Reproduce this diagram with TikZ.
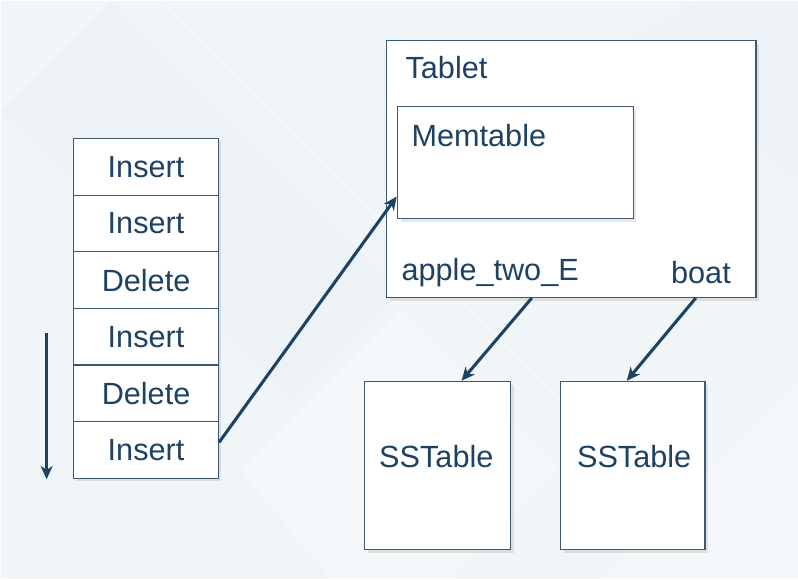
\documentclass[tikz,border=0pt]{standalone}
\usepackage{fontspec}
\setmainfont{Liberation Sans}
\usetikzlibrary{arrows.meta,shadows}
\definecolor{ink_col}{RGB}{30,66,100}
\definecolor{edge_col}{RGB}{62,88,114}
\definecolor{bg_col}{RGB}{240,245,248}
\definecolor{tile_col}{RGB}{228,236,242}

\begin{document}
\begin{tikzpicture}[x=0.75pt,y=-0.75pt,
    op_box/.style={draw=edge_col,fill=white,line width=0.9pt,minimum width=108.75pt,minimum height=42.5pt,text=ink_col,font=\fontsize{23}{26}\selectfont,drop shadow={shadow xshift=2pt,shadow yshift=-2pt,opacity=0.18}},
    table_box/.style={draw=edge_col,fill=white,line width=0.9pt,drop shadow={shadow xshift=2.5pt,shadow yshift=-2.5pt,opacity=0.18}},
    box_label/.style={text=ink_col,font=\fontsize{23}{26}\selectfont,inner sep=0pt},
    flow_arrow/.style={draw=ink_col,line width=2.3pt,-{Stealth[length=10pt,width=9pt,inset=3pt]}}]
  % background
  \fill[bg_col] (0,0) rectangle (798,579);
  \fill[tile_col,opacity=0.25] (0,110) -- (110,0) -- (400,290) -- (290,400) -- cycle;
  \fill[white,opacity=0.3] (240,470) -- (400,310) -- (560,470) -- (450,579) -- (330,579) -- cycle;
  \fill[white,opacity=0.35] (600,579) -- (798,380) -- (798,579) -- cycle;
  \fill[tile_col,opacity=0.2] (620,40) -- (700,0) -- (798,0) -- (798,180) -- cycle;
  \draw[white,line width=1pt,opacity=0.5] (0,110) -- (110,0);
  \draw[white,line width=1pt,opacity=0.5] (160,0) -- (560,400);
  \useasboundingbox (0,0) rectangle (798,579);
  % log of operations
\node[op_box] (op1) at (145.5,166.3) {Insert};
\node[op_box] (op2) at (145.5,223.0) {Insert};
\node[op_box] (op3) at (145.5,279.7) {Delete};
\node[op_box] (op4) at (145.5,336.3) {Insert};
\node[op_box] (op5) at (145.5,393.0) {Delete};
\node[op_box] (op6) at (145.5,449.7) {Insert};
  \coordinate (time_start) at (46,333);
  \coordinate (time_end) at (46,479);
  \draw[flow_arrow,line width=2.6pt] (time_start) -- (time_end);
  % tablet
\node[table_box,minimum width=277.5pt,minimum height=192.75pt] (tablet) at (571,168.5) {};
\node[table_box,minimum width=177pt,minimum height=84pt] (memtable) at (515,162) {};
\node[box_label,anchor=west] (tablet_lbl) at (405,67) {Tablet};
\node[box_label,anchor=west] (memtable_lbl) at (411,135) {Memtable};
\node[box_label,anchor=west] (key_a) at (401,272) {apple\_two\_E};
\node[box_label,anchor=east] (key_b) at (731,272) {boat};
  % sstables
\node[table_box,minimum width=109.5pt,minimum height=126pt] (sst1) at (437,465) {};
\node[table_box,minimum width=108.75pt,minimum height=126pt] (sst2) at (632.5,465) {};
\node[box_label] (sst1_lbl) at (436,456) {SSTable};
\node[box_label] (sst2_lbl) at (634,456) {SSTable};
  \draw[flow_arrow] (op6.6) -- (memtable.196.5);
  \draw[flow_arrow] (tablet.253.1) -- (sst1.74.7);
  \draw[flow_arrow] (tablet.314.4) -- (sst2.94.4);
\end{tikzpicture}
\end{document}
